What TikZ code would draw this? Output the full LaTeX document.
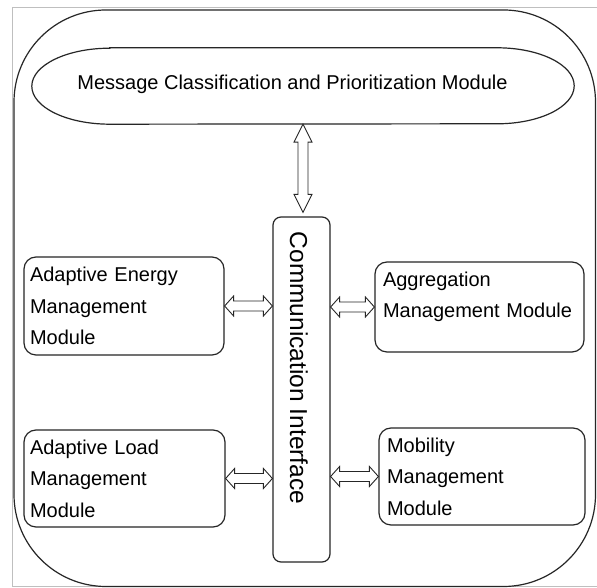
\documentclass[tikz,border=0pt]{standalone}
\usepackage{fontspec}
\setmainfont{Liberation Sans}
\usetikzlibrary{calc}

\tikzset{
  outline/.style={draw=black!85, line width=1.2pt},
  module/.style={outline, rounded corners=12pt, align=left, inner ysep=0pt,
    font=\fontsize{20}{31.5}\selectfont},
  arrowline/.style={draw=black!85, line width=0.9pt, fill=white, line join=miter},
  txt/.style={font=\fontsize{20}{24}\selectfont, inner sep=0pt}
}

% horizontal hollow double arrow between two points at the same height
\newcommand{\blockarrowh}[2]{%
  \draw[arrowline] let \p1=(#1), \p2=(#2) in
    (\x1,\y1) -- (\x1+9pt,\y1+10pt) -- (\x1+9pt,\y1+5pt) -- (\x2-9pt,\y1+5pt)
    -- (\x2-9pt,\y1+10pt) -- (\x2,\y1) -- (\x2-9pt,\y1-10pt) -- (\x2-9pt,\y1-5pt)
    -- (\x1+9pt,\y1-5pt) -- (\x1+9pt,\y1-10pt) -- cycle;}

% vertical hollow double arrow, first point on top
\newcommand{\blockarrowv}[2]{%
  \draw[arrowline] let \p1=(#1), \p2=(#2) in
    (\x1,\y1) -- (\x1+9pt,\y1-18pt) -- (\x1+5pt,\y1-18pt) -- (\x1+5pt,\y2+18pt)
    -- (\x1+9pt,\y2+18pt) -- (\x1,\y2) -- (\x1-9pt,\y2+18pt) -- (\x1-5pt,\y2+18pt)
    -- (\x1-5pt,\y1-18pt) -- (\x1-9pt,\y1-18pt) -- cycle;}

\begin{document}
\begin{tikzpicture}[x=1pt,y=1pt]
  \useasboundingbox (0,0) rectangle (597,588);
  \clip (0,0) rectangle (597,588);
  \fill[white] (0,0) rectangle (597,588);

  % thin grey page frame
  \draw[gray!50, line width=0.9pt] (12,2) rectangle (602,581);

  % outer rounded container
  \draw[outline, rounded corners=92pt] (14,1.5) rectangle (595.5,578);

  % message classification module (stadium with elliptic ends)
  \node (msg) [minimum width=542pt, minimum height=76pt, inner sep=0pt] at (303,502) {};
  \draw[outline]
    ($(msg.north west)+(78,0)$) -- ($(msg.north east)+(-77,0)$)
    arc[start angle=90, end angle=-90, x radius=77pt, y radius=38pt]
    -- ($(msg.south west)+(78,0)$)
    arc[start angle=270, end angle=90, x radius=78pt, y radius=38pt] -- cycle;
  \node (msgtext) [txt] at (292.5,504) {Message Classification and Prioritization Module};

  % communication interface
  \node (comm) [outline, rounded corners=8pt, minimum width=57pt, minimum height=345pt,
    inner sep=0pt] at (301.5,198.5) {};
  \node (commtext) [rotate=-90, font=\fontsize{24.5}{28}\selectfont, inner sep=0pt]
    at (299,220) {Communication Interface};

  % side modules
  \node (energy) [module, inner xsep=6pt, text width=188pt, minimum height=98pt]
    at (124,282) {Adaptive Energy\\Management\\Module};
  \node (load) [module, inner xsep=6pt, text width=189pt, minimum height=97pt]
    at (124.5,109.5) {Adaptive Load\\Management\\Module};
  \node (aggr) [module, inner xsep=8pt, text width=193pt, minimum height=90pt,
    text depth=55.6pt] at (479.5,281) {Aggregation\\Management Module};
  \node (mob) [module, inner xsep=8pt, text width=190pt, minimum height=97pt]
    at (482,111.5) {Mobility\\Management\\Module};

  % connectors
  \blockarrowv{msg.south}{$(msg.south |- comm.north)+(0,4pt)$}
  \blockarrowh{energy.east}{energy.east -| comm.west}
  \blockarrowh{load.east}{load.east -| comm.west}
  \blockarrowh{comm.east |- aggr.west}{aggr.west}
  \blockarrowh{comm.east |- mob.west}{mob.west}
\end{tikzpicture}
\end{document}
